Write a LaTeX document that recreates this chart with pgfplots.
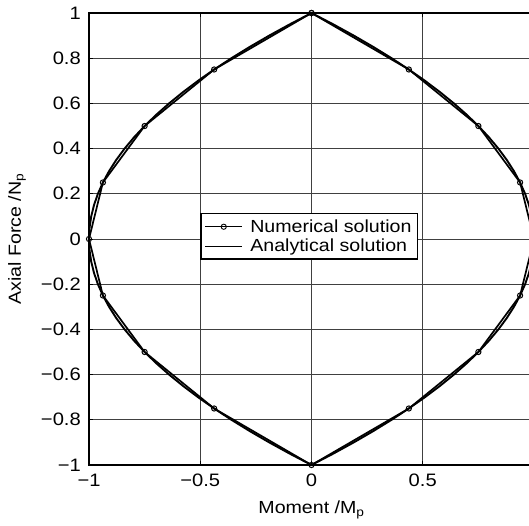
\documentclass[border=0pt]{standalone}
\usepackage{pgfplots}
\pgfplotsset{compat=1.18}
\usepackage{fontspec}
\setmainfont{Liberation Sans}[FakeStretch=1.12]
\begin{document}
\begin{tikzpicture}
\begin{axis}[name=ax, scale only axis, width=445pt, height=452pt,
 xmin=-1, xmax=1, ymin=-1, ymax=1,
 xtick={-1,-0.5,0,0.5,1}, xticklabels={−1,−0.5,0,0.5,{}},
 ytick={-1,-0.8,-0.6,-0.4,-0.2,0,0.2,0.4,0.6,0.8,1},
 yticklabels={−1,−0.8,−0.6,−0.4,−0.2,0,0.2,0.4,0.6,0.8,1},
 grid=major, major grid style={black!75, line width=0.7pt},
 axis line style={line width=1.4pt},
 tick style={black, line width=0.8pt}, major tick length=4pt,
 tick align=inside,
 ticklabel style={font=\fontsize{18}{21}\selectfont},
 xticklabel style={anchor=center, inner sep=0pt, yshift=-15pt},
 yticklabel style={anchor=east, inner sep=0pt, xshift=-8pt},
 every axis x label/.style={at={(axis description cs:0.5,0)}, anchor=center, yshift=-45pt, font=\fontsize{17.5}{20}\selectfont},
 every axis y label/.style={at={(axis description cs:0,0.5)}, rotate=90, anchor=center, yshift=72pt, font=\fontsize{17.5}{20}\selectfont},
 xlabel={Moment /M\textsubscript{p}}, ylabel={Axial Force /N\textsubscript{p}},
 legend style={at={(axis cs:-0.5,0.115)}, anchor=north west, draw=black, line width=1.3pt,
   font=\fontsize{17.5}{20}\selectfont, inner xsep=4pt, inner ysep=4pt, row sep=1pt},
 legend cell align=left,
 legend image code/.code={\draw[mark repeat=2,mark phase=2,#1] plot coordinates {(0cm,0cm) (0.65cm,0cm) (1.3cm,0cm)}; \path (1.5cm,0cm);},
]
\addplot[black, line width=1.7pt, mark=o, mark size=2.6pt, mark options={line width=1pt, fill=white},
  legend image post style={line width=0.6pt, mark options={line width=0.9pt, fill=white}}] coordinates {
 (0,1) (0.4375,0.75) (0.75,0.5) (0.9375,0.25) (1,0) (0.9375,-0.25) (0.75,-0.5) (0.4375,-0.75) (0,-1)
 (-0.4375,-0.75) (-0.75,-0.5) (-0.9375,-0.25) (-1,0) (-0.9375,0.25) (-0.75,0.5) (-0.4375,0.75) (0,1)
};
\addlegendentry{Numerical solution}
\addplot[black, line width=1.9pt, legend image post style={line width=0.7pt}] coordinates {
 (0,1) (0.0975,0.95) (0.19,0.9) (0.2775,0.85) (0.36,0.8) (0.4375,0.75) (0.51,0.7) (0.5775,0.65)
 (0.64,0.6) (0.6975,0.55) (0.75,0.5) (0.7975,0.45) (0.84,0.4) (0.8775,0.35) (0.91,0.3) (0.9375,0.25)
 (0.96,0.2) (0.9775,0.15) (0.99,0.1) (0.9975,0.05) (1,0)
 (0.9975,-0.05) (0.99,-0.1) (0.9775,-0.15) (0.96,-0.2) (0.9375,-0.25) (0.91,-0.3) (0.8775,-0.35)
 (0.84,-0.4) (0.7975,-0.45) (0.75,-0.5) (0.6975,-0.55) (0.64,-0.6) (0.5775,-0.65) (0.51,-0.7)
 (0.4375,-0.75) (0.36,-0.8) (0.2775,-0.85) (0.19,-0.9) (0.0975,-0.95) (0,-1)
 (-0.0975,-0.95) (-0.19,-0.9) (-0.2775,-0.85) (-0.36,-0.8) (-0.4375,-0.75) (-0.51,-0.7) (-0.5775,-0.65)
 (-0.64,-0.6) (-0.6975,-0.55) (-0.75,-0.5) (-0.7975,-0.45) (-0.84,-0.4) (-0.8775,-0.35) (-0.91,-0.3)
 (-0.9375,-0.25) (-0.96,-0.2) (-0.9775,-0.15) (-0.99,-0.1) (-0.9975,-0.05) (-1,0)
 (-0.9975,0.05) (-0.99,0.1) (-0.9775,0.15) (-0.96,0.2) (-0.9375,0.25) (-0.91,0.3) (-0.8775,0.35)
 (-0.84,0.4) (-0.7975,0.45) (-0.75,0.5) (-0.6975,0.55) (-0.64,0.6) (-0.5775,0.65) (-0.51,0.7)
 (-0.4375,0.75) (-0.36,0.8) (-0.2775,0.85) (-0.19,0.9) (-0.0975,0.95) (0,1)
};
\addlegendentry{Analytical solution}
\end{axis}
\pgfresetboundingbox
\useasboundingbox ([xshift=-89pt,yshift=-61pt]ax.south west) rectangle ([xshift=-5pt,yshift=13pt]ax.north east);
\end{tikzpicture}
\end{document}
